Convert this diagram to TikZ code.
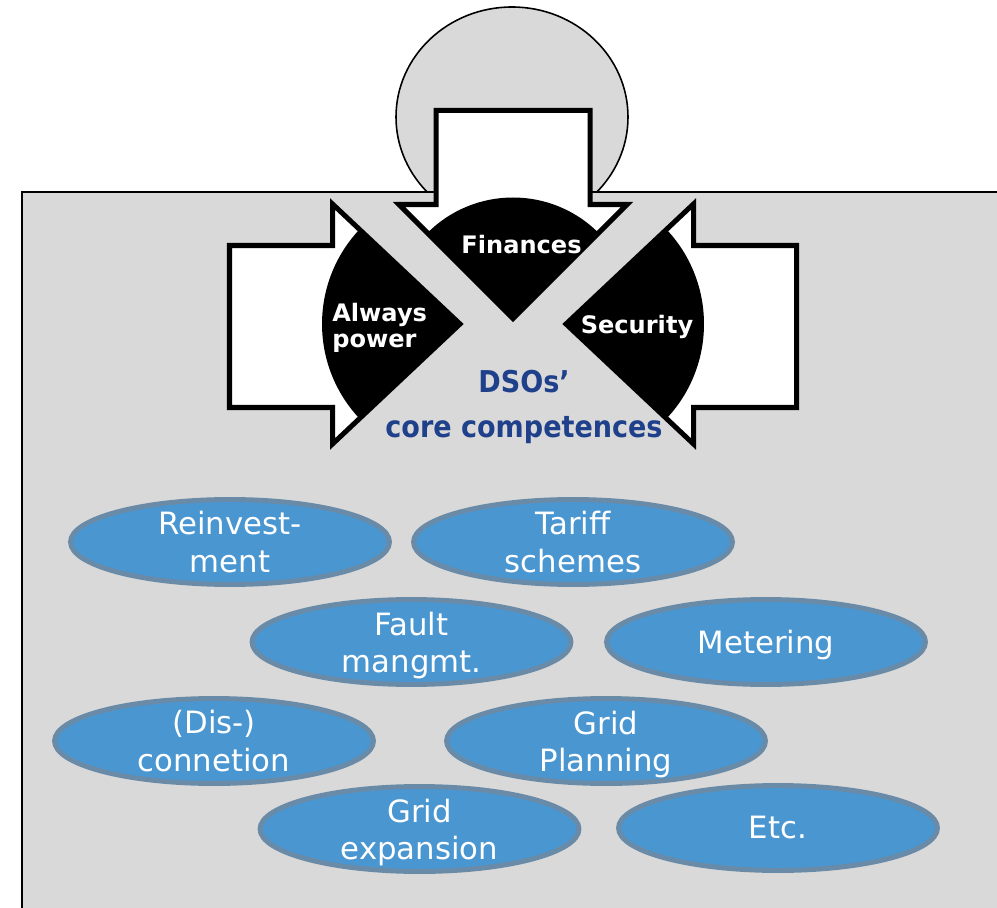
\documentclass[tikz,border=0pt]{standalone}
\usepackage{fontspec}
\setmainfont{DejaVu Sans}
\newfontfamily\strettofont{DejaVu Sans}[FakeStretch=0.9]
\usetikzlibrary{shapes.geometric}

\definecolor{grigio}{RGB}{217,217,217}
\definecolor{azzurro}{RGB}{74,150,209}
\definecolor{bordoazzurro}{RGB}{106,139,168}
\definecolor{blu}{RGB}{31,64,138}

\begin{document}
\begin{tikzpicture}[
            x=0.02cm, y=0.02cm,
            % Stile per le frecce bianche
            freccia/.style={fill=white, draw=black, line width=2.85pt, line join=miter},
            % Stile per le scritte negli spicchi neri
            voce/.style={text=white, inner sep=0pt, font=\fontsize{13.7}{14.8}\selectfont\bfseries},
            % Stile per la scritta centrale
            nucleo/.style={text=blu, align=center, inner sep=0pt,
                font=\strettofont\fontsize{17.1}{25.6}\selectfont\bfseries},
            % Stile per le ellissi azzurre
            bolla/.style={ellipse, fill=azzurro, draw=bordoazzurro, line width=2.8pt,
                minimum width=6.38cm, minimum height=1.7cm},
            testobolla/.style={text=white, align=center, inner sep=0pt,
                font=\fontsize{17.5}{21.6}\selectfont}
        ]

            \useasboundingbox (0,0) rectangle (997,907);
            \fill[white] (0,0) rectangle (997,907);

            % --- Cerchio in alto ---
            \draw[fill=grigio, line width=0.9pt] (512,790) ellipse [x radius=116, y radius=110];

            % --- Riquadro grigio ---
            \fill[grigio] (22,-5) rectangle (1005,715);
            \draw[line width=1.1pt] (22,-5) -- (22,715) -- (1005,715);

            % --- Frecce ---
            % Freccia in alto
            \draw[freccia] (436,796.5) -- (590,796.5) -- (590,702.5) -- (627,702.5)
                -- (513,588.5) -- (399,702.5) -- (436,702.5) -- cycle;
            % Freccia a sinistra
            \draw[freccia] (229.5,661.5) -- (332.5,661.5) -- (332.5,703) -- (460,583)
                -- (332.5,463) -- (332.5,499.5) -- (229.5,499.5) -- cycle;
            % Freccia a destra
            \draw[freccia] (796.5,661.5) -- (693.5,661.5) -- (693.5,703) -- (566,583)
                -- (693.5,463) -- (693.5,499.5) -- (796.5,499.5) -- cycle;

            % --- Spicchi neri ---
            \fill (513,588.5) -- ++(45:121) arc[start angle=45, end angle=135, radius=121] -- cycle;
            \fill (460,583) -- ++(136.7:138) arc[start angle=136.7, end angle=223.3, radius=138] -- cycle;
            \fill (566,583) -- ++(-43.3:138) arc[start angle=-43.3, end angle=43.3, radius=138] -- cycle;

            \node[voce] (finances) at (521.5,662) {Finances};
            \node[voce, anchor=west, align=left] (always) at (332,579) {Always\\power};
            \node[voce] (security) at (637,580) {Security};

            % Scritta centrale
            \node[nucleo] (core) at (524,500.5) {DSOs’\\core competences};

            % --- Ellissi ---
            \foreach \nome/\x/\y/\dy/\testo in {
                reinvest/230/365/0/{Reinvest-\\ment},
                tariff/573/365/0/{Tariff\\schemes},
                fault/411.5/265/3.5/{Fault\\mangmt.},
                metering/766/265/3/{Metering},
                disconn/214/166/0/{(Dis-)\\connetion},
                planning/606/166/3.5/{Grid\\Planning},
                expansion/419.5/78/3.5/{Grid\\expansion},
                etc/778/79/0/{Etc.}}
            {
                \node[bolla] (\nome) at (\x,\y) {};
                \node[testobolla] (\nome-t) at (\x,\y-\dy) {\testo};
            }

        \end{tikzpicture}
\end{document}
